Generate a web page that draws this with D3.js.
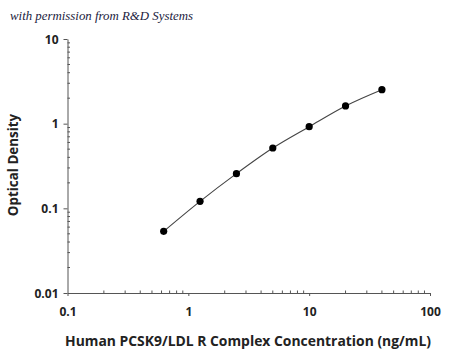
<!DOCTYPE html>
<html><head><meta charset="utf-8">
<script src="https://cdn.jsdelivr.net/npm/d3@7"></script>
<style>body{margin:0;background:#fff;} svg{display:block;}</style>
</head><body>
<script>
const concentrations = [0.625, 1.25, 2.5, 5, 10, 20, 40];
const opticalDensity = [0.0535, 0.121, 0.257, 0.516, 0.922, 1.62, 2.52];
const xTickValues = [0.1, 1, 10, 100];
const xTickLabels = ["0.1", "1", "10", "100"];
const yTickValues = [0.01, 0.1, 1, 10];
const yTickLabels = ["0.01", "0.1", "1", "10"];
const xTitle = "Human PCSK9/LDL R Complex Concentration (ng/mL)";
const yTitle = "Optical Density";
const credit = "with permission from R&D Systems";

const W = 450, H = 350;
const svg = d3.select("body").append("svg").attr("width", W).attr("height", H);
const x = d3.scaleLog().domain([0.1, 100]).range([67.5, 430]);
const y = d3.scaleLog().domain([0.01, 10]).range([293, 39]);
const axisColor = "#555";
const fontFam = "'Open Sans', 'DejaVu Sans', sans-serif";

svg.append("text").attr("x", 10).attr("y", 20)
  .attr("font-family", "'Liberation Serif', 'DejaVu Serif', serif")
  .attr("font-style", "italic").attr("font-size", 13.2).attr("fill", "#1c1c40")
  .attr("textLength", 183).attr("lengthAdjust", "spacingAndGlyphs")
  .text(credit);

// minor ticks values
const minorX = [], minorY = [];
for (let d = 0.1; d < 100; d *= 10) for (let k = 2; k <= 9; k++) minorX.push(d * k);
for (let d = 0.01; d < 10; d *= 10) for (let k = 2; k <= 9; k++) minorY.push(d * k);

// X axis
const gx = svg.append("g").attr("transform", `translate(0,${y(0.01)})`);
gx.call(d3.axisBottom(x).tickValues(xTickValues).tickFormat((d,i)=>xTickLabels[i]).tickSize(3).tickSizeOuter(0));
gx.select(".domain").attr("stroke", axisColor);
gx.selectAll(".tick line").attr("stroke", axisColor);
gx.selectAll(".tick text").attr("font-family", fontFam).attr("font-weight", "bold")
  .attr("font-size", 12).attr("fill", "#222").attr("dy", "0").attr("y", 23);
gx.selectAll(".minor").data(minorX).enter().append("line").attr("class", "minor")
  .attr("x1", d => x(d)).attr("x2", d => x(d)).attr("y1", 0).attr("y2", -2.5)
  .attr("stroke", axisColor);

// Y axis
const gy = svg.append("g").attr("transform", `translate(${x(0.1)},0)`);
gy.call(d3.axisLeft(y).tickValues(yTickValues).tickFormat((d,i)=>yTickLabels[i]).tickSize(4).tickSizeOuter(0));
gy.select(".domain").attr("stroke", axisColor);
gy.selectAll(".tick line").attr("stroke", axisColor);
gy.selectAll(".tick text").attr("font-family", fontFam).attr("font-weight", "bold")
  .attr("font-size", 12).attr("fill", "#222").attr("x", -9).attr("dy", "0.35em");
gy.selectAll(".minor").data(minorY).enter().append("line").attr("class", "minor")
  .attr("y1", d => y(d)).attr("y2", d => y(d)).attr("x1", 0).attr("x2", 2.5)
  .attr("stroke", axisColor);

// curve
const pts = concentrations.map((c, i) => [c, opticalDensity[i]]);
svg.append("path").datum(pts)
  .attr("d", d3.line().x(d => x(d[0])).y(d => y(d[1])).curve(d3.curveMonotoneX))
  .attr("fill", "none").attr("stroke", "#444").attr("stroke-width", 1.1);
svg.selectAll(".pt").data(pts).enter().append("circle").attr("class", "pt")
  .attr("cx", d => x(d[0])).attr("cy", d => y(d[1])).attr("r", 3.6).attr("fill", "#000");

// titles
svg.append("text").attr("x", 248).attr("y", 346).attr("text-anchor", "middle")
  .attr("font-family", fontFam).attr("font-weight", "bold").attr("font-size", 13.9).attr("fill", "#222")
  .text(xTitle);
svg.append("text").attr("transform", "translate(18,165) rotate(-90)").attr("text-anchor", "middle")
  .attr("font-family", fontFam).attr("font-weight", "bold").attr("font-size", 13.4).attr("fill", "#222")
  .text(yTitle);
</script>
</body></html>
